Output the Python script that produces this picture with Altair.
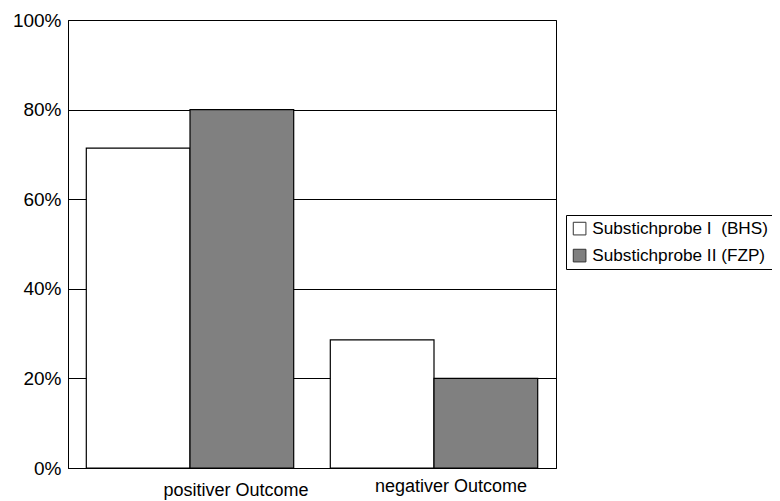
import altair as alt
import pandas as pd

categories = ["positiver Outcome", "negativer Outcome"]
series = ["Substichprobe I\u00a0 (BHS)", "Substichprobe II (FZP)"]
values_bhs = [71.4, 28.6]
values_fzp = [80.0, 20.0]
y_ticks = [0, 20, 40, 60, 80, 100]

rows = []
for i, c in enumerate(categories):
    rows.append({"cat": c, "serie": series[0], "value": values_bhs[i]})
    rows.append({"cat": c, "serie": series[1], "value": values_fzp[i]})
df = pd.DataFrame(rows)

FONT = "Liberation Sans"

bars = alt.Chart(df).mark_bar(stroke="black", strokeWidth=1.2).encode(
    x=alt.X("cat:N", sort=categories, title=None,
            scale=alt.Scale(paddingInner=0.15, paddingOuter=0.075),
            axis=alt.Axis(labelAngle=0, ticks=False, domainColor="black",
                          labelFont=FONT, labelFontSize=18, labelColor="black",
                          labelOffset={"condition": {"test": "datum.value == 'positiver Outcome'", "value": 46}, "value": 17},
                          labelPadding={"condition": {"test": "datum.value == 'positiver Outcome'", "value": 13}, "value": 9},
                          grid=False)),
    xOffset=alt.XOffset("serie:N", sort=series),
    y=alt.Y("value:Q", title=None,
            scale=alt.Scale(domain=[0, 100], nice=False),
            axis=alt.Axis(values=y_ticks, labelExpr="datum.value + '%'", ticks=False,
                          domainColor="black", gridColor="black", gridWidth=1, gridOpacity=1,
                          labelFont=FONT, labelFontSize=19, labelColor="black", labelPadding=7)),
    color=alt.Color("serie:N", sort=series,
                    scale=alt.Scale(domain=series, range=["#ffffff", "#808080"]),
                    legend=alt.Legend(title=None, orient="none", legendX=498, legendY=195,
                                      symbolType="square", symbolSize=160,
                                      symbolStrokeColor="#333333", symbolStrokeWidth=1,
                                      labelFont=FONT, labelFontSize=17.2, labelColor="black",
                                      labelLimit=400, labelOffset=4,
                                      strokeColor="black", padding=5, rowPadding=9,
                                      fillColor="white")),
)

chart = bars.properties(
    width=488, height=448,
    autosize=alt.AutoSizeParams(type="none"),
    padding={"left": 60, "top": 12, "right": 216, "bottom": 32},
    background="white",
).configure_view(stroke="black", strokeWidth=1)

chart.save("out.html", embed_options={"renderer": "svg", "actions": False})
